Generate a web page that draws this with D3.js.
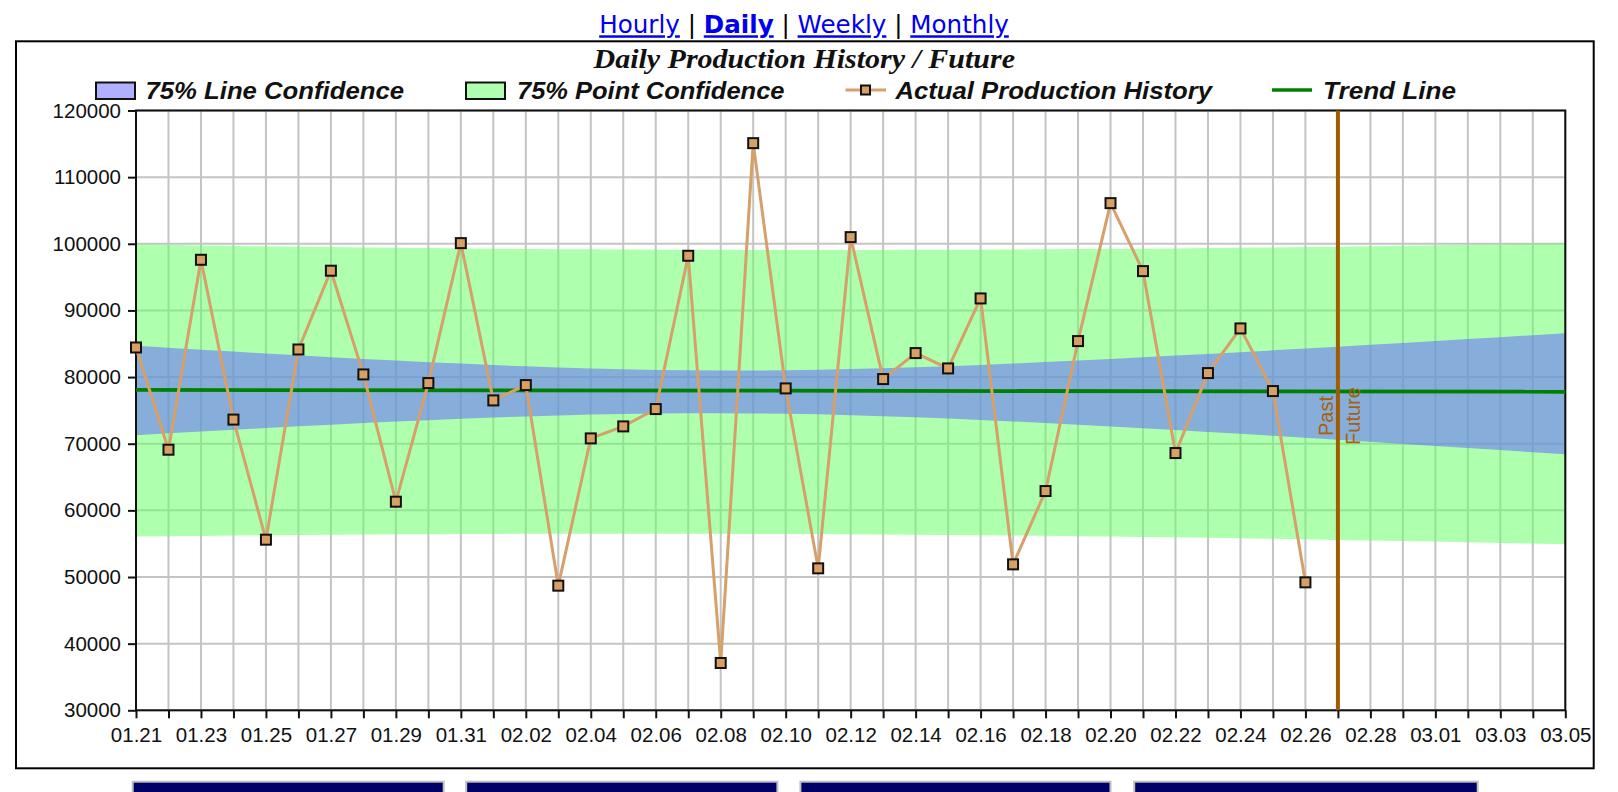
<!DOCTYPE html>
<html><head><meta charset="utf-8">
<script src="https://cdn.jsdelivr.net/npm/d3@7"></script>
<style>
html,body{margin:0;padding:0;background:#fff;overflow:hidden}
svg{display:block}
</style></head><body>
<svg id="chart" width="1618" height="792"></svg>
<script>
// ---------- data ----------
const days = ["01.21","01.22","01.23","01.24","01.25","01.26","01.27","01.28","01.29","01.30","01.31",
  "02.01","02.02","02.03","02.04","02.05","02.06","02.07","02.08","02.09","02.10","02.11","02.12","02.13","02.14",
  "02.15","02.16","02.17","02.18","02.19","02.20","02.21","02.22","02.23","02.24","02.25","02.26","02.27","02.28","02.29",
  "03.01","03.02","03.03","03.04","03.05"];
const production = [84440,69100,97600,73620,55600,84140,95960,80400,61300,79100,100100,
  76500,78800,48700,70800,72600,75200,98200,37100,115100,78300,51300,101000,79700,83600,
  81300,91800,51900,62900,85400,106100,95900,68600,80600,87300,77900,49200];
const lineConfUpper = [84690,84400,84100,83820,83530,83260,82980,82730,82470,82240,82020,81800,81610,81430,81290,
  81170,81080,81010,80990,80990,81030,81100,81200,81330,81470,81640,81830,82030,82250,82480,82720,82960,83220,
  83470,83740,84010,84280,84560,84840,85120,85410,85700,85990,86290,86570];
const lineConfLower = [71290,71570,71830,72100,72360,72620,72860,73100,73320,73540,73750,73930,74100,74250,74380,
  74470,74550,74580,74590,74550,74500,74410,74280,74140,73960,73780,73560,73340,73100,72850,72590,72320,72050,
  71760,71480,71180,70890,70580,70280,69970,69670,69360,69040,68730,68410];
const pointConfUpper = [99920,99840,99760,99700,99620,99560,99500,99450,99390,99350,99310,99260,99230,99190,99170,
  99140,99120,99100,99090,99070,99070,99080,99070,99080,99090,99110,99120,99140,99170,99200,99240,99270,99310,
  99350,99400,99450,99510,99560,99630,99690,99770,99840,99910,100000,100070];
const pointConfLower = [56070,56130,56170,56220,56260,56310,56340,56380,56400,56430,56460,56470,56490,56490,56500,
  56500,56500,56490,56490,56470,56460,56440,56410,56390,56350,56310,56270,56230,56180,56130,56080,56010,55950,
  55880,55810,55730,55660,55570,55490,55400,55310,55220,55120,55020,54910];
const trendStart = 78080, trendEnd = 77800;
const yTicks = [30000,40000,50000,60000,70000,80000,90000,100000,110000,120000];
const pastFutureDay = "02.27";
const navLinks = ["Hourly","Daily","Weekly","Monthly"];
const activeLink = "Daily";
const chartTitle = "Daily Production History / Future";
const legendLabels = ["75% Line Confidence","75% Point Confidence","Actual Production History","Trend Line"];

// ---------- drawing ----------
const svg = d3.select("#chart");
const plot = {left:136, right:1565.3, top:110.5, bottom:710.3};
const x = d3.scalePoint().domain(days).range([plot.left, plot.right]);
const y = d3.scaleLinear().domain([30000,120000]).range([plot.bottom, plot.top]);
const labelFont = "'Liberation Sans', Arial, sans-serif";

// nav links
const nav = svg.append("text").attr("x",804).attr("y",33.3).attr("text-anchor","middle")
  .style("font-family","'DejaVu Sans', Verdana, sans-serif").style("font-size","24.6px");
navLinks.forEach((l,i)=>{
  if(i>0) nav.append("tspan").text(" | ").attr("fill","#000");
  nav.append("tspan").text(l).attr("fill","#0000ee").style("text-decoration","underline")
    .style("font-weight", l===activeLink ? "bold" : "normal");
});

// frame
svg.append("rect").attr("x",16).attr("y",41.3).attr("width",1577.7).attr("height",727)
  .attr("fill","none").attr("stroke","#000").attr("stroke-width",2);

// title
svg.append("text").attr("x",593.5).attr("y",67.7).attr("textLength",421.5).attr("lengthAdjust","spacingAndGlyphs")
  .style("font-family","'Liberation Serif', 'Times New Roman', serif").style("font-weight","bold")
  .style("font-style","italic").style("font-size","27.5px").attr("fill","#111").text(chartTitle);

// grid
const g = svg.append("g");
g.selectAll("line.vg").data(days).join("line").attr("class","vg")
  .attr("x1",d=>x(d)).attr("x2",d=>x(d)).attr("y1",plot.top).attr("y2",plot.bottom)
  .attr("stroke","#c4c4c4").attr("stroke-width",2);
g.selectAll("line.hg").data(yTicks).join("line").attr("class","hg")
  .attr("x1",plot.left).attr("x2",plot.right).attr("y1",d=>y(d)).attr("y2",d=>y(d))
  .attr("stroke","#c4c4c4").attr("stroke-width",2);

// bands
const idx = d3.range(days.length);
const areaPoint = d3.area().x(i=>x(days[i])).y0(i=>y(pointConfLower[i])).y1(i=>y(pointConfUpper[i]));
const areaLine = d3.area().x(i=>x(days[i])).y0(i=>y(lineConfLower[i])).y1(i=>y(lineConfUpper[i]));
svg.append("path").datum(idx).attr("d",areaPoint).attr("fill","rgb(100,255,100)").attr("fill-opacity",0.52);
svg.append("path").datum(idx).attr("d",areaLine).attr("fill","rgb(109,118,249)").attr("fill-opacity",0.6);

// axes
const yAxis = d3.axisLeft(y).tickValues(yTicks).tickSize(8).tickPadding(7).tickFormat(d3.format("d"));
const xAxis = d3.axisBottom(x).tickSize(8).tickPadding(9).tickFormat((d,i)=> i%2===0 ? d : "");
const ya = svg.append("g").attr("transform",`translate(${plot.left},0)`).call(yAxis);
const xa = svg.append("g").attr("transform",`translate(0,${plot.bottom})`).call(xAxis);
[ya,xa].forEach(a=>{
  a.select(".domain").remove();
  a.selectAll(".tick line").attr("stroke","#111").attr("stroke-width",2);
  a.selectAll("text").style("font-family",labelFont).style("font-size","20.5px").attr("fill","#111");
});

// plot border
svg.append("rect").attr("x",plot.left).attr("y",plot.top).attr("width",plot.right-plot.left)
  .attr("height",plot.bottom-plot.top).attr("fill","none").attr("stroke","#111").attr("stroke-width",2);

// trend line
svg.append("line").attr("x1",x(days[0])).attr("x2",x(days[days.length-1]))
  .attr("y1",y(trendStart)).attr("y2",y(trendEnd)).attr("stroke","#008000").attr("stroke-width",3.8);

// past/future line
const pfx = x(pastFutureDay);
svg.append("line").attr("x1",pfx).attr("x2",pfx).attr("y1",plot.top).attr("y2",plot.bottom)
  .attr("stroke","#a05c00").attr("stroke-width",4);
svg.append("text").attr("transform",`translate(${pfx-5},416) rotate(-90)`).attr("text-anchor","middle")
  .style("font-family",labelFont).style("font-size","20px").attr("fill","#a8600a").text("Past");
svg.append("text").attr("transform",`translate(${pfx+22},416) rotate(-90)`).attr("text-anchor","middle")
  .style("font-family",labelFont).style("font-size","20px").attr("fill","#a8600a").text("Future");

// production line
const lineColor = "#d6a06a";
svg.append("path").datum(production).attr("d", d3.line().x((d,i)=>x(days[i])).y(d=>y(d)))
  .attr("fill","none").attr("stroke",lineColor).attr("stroke-width",3);
svg.selectAll("rect.mk").data(production).join("rect").attr("class","mk")
  .attr("x",(d,i)=>x(days[i])-5).attr("y",d=>y(d)-5).attr("width",10).attr("height",10)
  .attr("fill","#d9a066").attr("stroke","#111").attr("stroke-width",2);

// legend
const legFontFamily = "'Liberation Sans', Arial, sans-serif";
const leg = svg.append("g");
function legText(xp, w, t){
  leg.append("text").attr("x",xp).attr("y",99.3).attr("textLength",w).attr("lengthAdjust","spacingAndGlyphs")
    .style("font-family",legFontFamily).style("font-weight","bold").style("font-style","italic")
    .style("font-size","24px").attr("fill","#111").text(t);
}
leg.append("rect").attr("x",96).attr("y",82.5).attr("width",39).attr("height",16.5).attr("fill","#b0b0ff").attr("stroke","#111").attr("stroke-width",2);
legText(145.5, 258.5, legendLabels[0]);
leg.append("rect").attr("x",466).attr("y",82.5).attr("width",39).attr("height",16.5).attr("fill","#b0ffb0").attr("stroke","#111").attr("stroke-width",2);
legText(517, 267.5, legendLabels[1]);
leg.append("line").attr("x1",845.5).attr("x2",886).attr("y1",90).attr("y2",90).attr("stroke",lineColor).attr("stroke-width",3);
leg.append("rect").attr("x",861).attr("y",85.5).attr("width",9).attr("height",9).attr("fill","#d9a066").attr("stroke","#111").attr("stroke-width",2);
legText(895.5, 316.5, legendLabels[2]);
leg.append("line").attr("x1",1272).attr("x2",1312).attr("y1",90).attr("y2",90).attr("stroke","#008000").attr("stroke-width",3.5);
legText(1323, 133, legendLabels[3]);

// bottom buttons (page chrome)
[[131.7,444.7],[465.2,778.4],[799.4,1111.5],[1133.2,1478.7]].forEach(b=>{
  svg.append("rect").attr("x",b[0]+1).attr("y",781.7).attr("width",b[1]-b[0]-2).attr("height",30)
    .attr("fill","#000066").attr("stroke","#c0c0c0").attr("stroke-width",2);
});
</script>
</body></html>
